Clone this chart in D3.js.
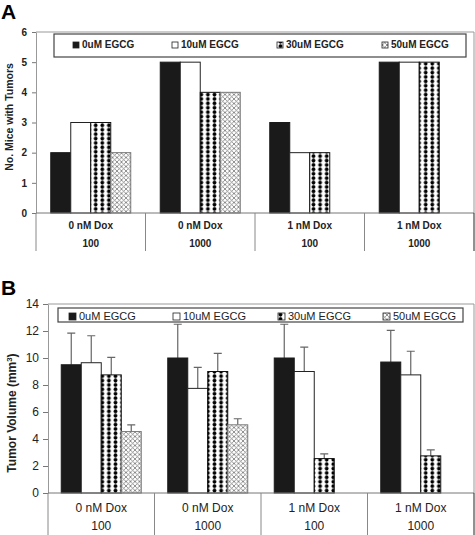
<!DOCTYPE html>
<html><head><meta charset="utf-8">
<script src="https://cdn.jsdelivr.net/npm/d3@7"></script>
<style>body{margin:0;background:#fff}svg{display:block}text{font-family:"Liberation Sans",Arial,sans-serif}</style>
</head><body><svg id="c" width="475" height="535"></svg>
<script>
const series = ["0uM EGCG","10uM EGCG","30uM EGCG","50uM EGCG"];
const groupsTop = ["0 nM Dox","0 nM Dox","1 nM Dox","1 nM Dox"];
const groupsBottom = ["100","1000","100","1000"];
const miceWithTumors = [[2,3,3,2],[5,5,4,4],[3,2,2,null],[5,5,5,null]];
const tumorVolume = [[9.5,9.65,8.75,4.55],[10,7.75,9,5.05],[10,9,2.55,null],[9.7,8.75,2.75,null]];
const tumorVolumeErr = [[2.35,2.0,1.3,0.5],[2.5,1.55,1.35,0.45],[2.5,1.8,0.35,null],[2.35,1.75,0.45,null]];
const ticksA = [0,1,2,3,4,5,6];
const ticksB = [0,2,4,6,8,10,12,14];

const svg = d3.select("#c");
const defs = svg.append("defs");
const dp = defs.append("pattern").attr("id","dots").attr("patternUnits","userSpaceOnUse").attr("width",6.6).attr("height",4.4);
dp.append("rect").attr("width",6.6).attr("height",4.4).attr("fill","#fff");
dp.append("circle").attr("cx",3.3).attr("cy",2.2).attr("r",1.9).attr("fill","#000");
const cp = defs.append("pattern").attr("id","cross").attr("patternUnits","userSpaceOnUse").attr("width",4.5).attr("height",4.5);
cp.append("rect").attr("width",4.5).attr("height",4.5).attr("fill","#fff");
cp.append("path").attr("d","M0,0L4.5,4.5M4.5,0L0,4.5M-1,1L1,-1M3.5,5.5L5.5,3.5M-1,3.5L1,5.5M3.5,-1L5.5,1").attr("stroke","#777").attr("stroke-width",0.8);
const fills = ["#1a1a1a","#fff","url(#dots)","url(#cross)"];
const strokes = ["#1a1a1a","#222","#111","#777"];

function panel(o){
  const g = svg.append("g");
  const y = d3.scaleLinear().domain([0,o.max]).range([o.y0,o.y1]);
  const x = d3.scaleBand().domain(d3.range(4)).range([o.x0,o.x1]);
  const bw = x.bandwidth();
  const xi = d3.scaleBand().domain(d3.range(4)).range([0,bw]).paddingInner(0).paddingOuter((bw/20-4)/2);
  g.append("path").attr("d",`M${o.x0},${o.y1}H${o.x1}V${o.y0}`).attr("fill","none").attr("stroke","#999").attr("stroke-width",1);
  o.data.forEach((row,gi)=>{
    row.forEach((v,si)=>{
      if(v==null) return;
      const bx = x(gi)+xi(si);
      if(o.err && o.err[gi][si]!=null){
        const cx = bx+xi.bandwidth()/2, ty = y(v+o.err[gi][si]);
        g.append("path").attr("d",`M${cx},${y(v)}V${ty}M${cx-4},${ty}H${cx+4}`).attr("stroke","#666").attr("stroke-width",1.2).attr("fill","none");
      }
      g.append("rect").attr("x",bx).attr("y",y(v)).attr("width",xi.bandwidth()).attr("height",y(0)-y(v))
        .attr("fill",fills[si]).attr("stroke",strokes[si]).attr("stroke-width",1);
    });
  });
  const ax = g.append("g").attr("transform",`translate(${o.x0},0)`).call(d3.axisLeft(y).tickValues(o.ticks).tickFormat(d3.format("d")).tickSize(o.tick).tickPadding(o.pad).tickSizeOuter(0));
  ax.select(".domain").attr("stroke","#999");
  ax.selectAll(".tick line").attr("stroke","#777");
  ax.selectAll("text").attr("font-size",o.fs).attr("font-weight",o.bold?"bold":"normal").attr("fill","#222").attr("font-family","Liberation Sans,Arial,sans-serif");
  g.append("line").attr("x1",o.x0).attr("x2",o.x1).attr("y1",o.y0).attr("y2",o.y0).attr("stroke","#777");
  d3.range(5).forEach(i=>{
    const xx = i<4? x(i): o.x1;
    g.append("line").attr("x1",xx).attr("x2",xx).attr("y1",o.y0).attr("y2",o.tb).attr("stroke",i==4?"#222":"#888").attr("stroke-width",1);
  });
  d3.range(4).forEach(i=>{
    g.append("text").attr("x",x(i)+bw/2).attr("y",o.l1).attr("text-anchor","middle").attr("font-size",o.cfs).attr("font-weight",o.bold?"bold":"normal").attr("fill","#222").text(groupsTop[i]);
    g.append("text").attr("x",x(i)+bw/2).attr("y",o.l2).attr("text-anchor","middle").attr("font-size",o.cfs).attr("font-weight",o.bold?"bold":"normal").attr("fill","#222").text(groupsBottom[i]);
  });
  g.append("rect").attr("x",o.lg[0]).attr("y",o.lg[1]).attr("width",o.lg[2]-o.lg[0]).attr("height",o.lg[3]-o.lg[1]).attr("fill","#fff").attr("stroke","#444").attr("stroke-width",1.2);
  series.forEach((s,i)=>{
    const mx = o.lx[i];
    g.append("rect").attr("x",mx).attr("y",o.lb-o.ms).attr("width",o.ms).attr("height",o.ms).attr("fill",fills[i]).attr("stroke","#222").attr("stroke-width",0.8);
    g.append("text").attr("x",mx+o.ms+3).attr("y",o.lb).attr("font-size",o.lfs).attr("font-weight",o.bold?"bold":"normal").attr("fill","#222").text(s);
  });
  const t = g.append("text").attr("transform",`translate(${o.tx},${o.ty}) rotate(-90)`).attr("text-anchor","middle").attr("font-size",o.tfs).attr("font-weight","bold").attr("fill","#222");
  t.append("tspan").text(o.title);
  if(o.sup){ t.append("tspan").attr("dy",-4).attr("font-size",o.tfs*0.65).text(o.sup); t.append("tspan").attr("dy",4).text(")"); }
  svg.append("text").attr("x",1).attr("y",o.pb).attr("font-size",21).attr("font-weight","bold").attr("fill","#000").text(o.letter);
}

panel({max:6,y0:213,y1:32,x0:36,x1:474,data:miceWithTumors,ticks:ticksA,tick:4,pad:5,fs:10,bold:true,
  tb:251,l1:229,l2:247,cfs:10,lg:[54,34,466,57],lx:[73,172,277,382],lb:48,ms:6,lfs:10,
  title:"No. Mice with Tumors",tx:13,ty:117,tfs:10.5,letter:"A",pb:19});
panel({max:14,y0:493,y1:304,x0:48,x1:474,data:tumorVolume,err:tumorVolumeErr,ticks:ticksB,tick:5,pad:4,fs:12,bold:false,
  tb:535,l1:512,l2:530,cfs:12,lg:[58,308,463,322],lx:[69,173,278,383],lb:320,ms:7,lfs:11,
  title:"Tumor Volume (mm",sup:"3",tx:16,ty:413,tfs:12,letter:"B",pb:295});
</script></body></html>
